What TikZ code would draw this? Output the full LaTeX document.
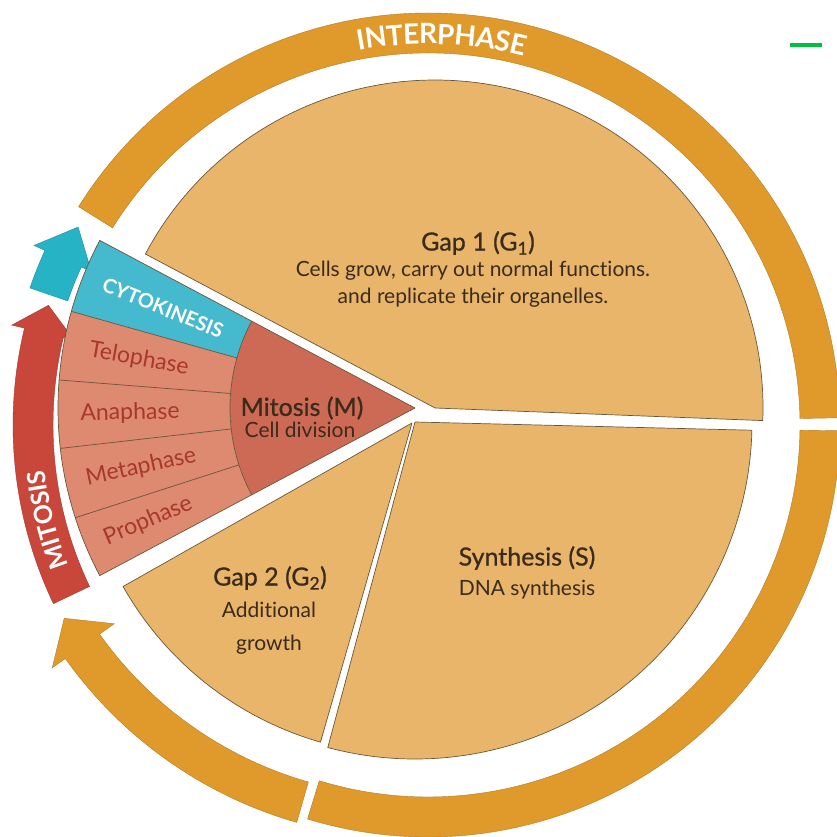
\documentclass[tikz,border=0pt]{standalone}
\usepackage{fontspec}
\setmainfont{Lato}[Ligatures=NoCommon]
\newfontfamily\titlefont{Lato}[FakeBold=0.8, Ligatures=NoCommon]
\usetikzlibrary{decorations.text}
\definecolor{sect}{HTML}{E9B56B}
\definecolor{sectline}{HTML}{6A5638}
\definecolor{ring}{HTML}{E09A2B}
\definecolor{mitred}{HTML}{C9473A}
\definecolor{cyanarrow}{HTML}{27B3C6}
\definecolor{cyanband}{HTML}{45B9CE}
\definecolor{band}{HTML}{DD8A70}
\definecolor{mitcore}{HTML}{CD6A55}
\definecolor{phasetext}{HTML}{A8382C}
\definecolor{bodytext}{HTML}{3A2B1A}
\definecolor{markgreen}{HTML}{00C040}
\begin{document}
\begin{tikzpicture}[x=1pt,y=1pt,
  sector/.style={fill=sect, draw=sectline, line width=0.7pt, line join=round},
  ringpiece/.style={fill=ring, draw=ring!80!black, line width=0.4pt},
  body/.style={text=bodytext, font=\fontsize{21}{27}\selectfont, align=center, inner sep=0pt},
  title/.style={text=bodytext, font=\titlefont\fontsize{25}{28}\selectfont, inner sep=0pt},
  phase/.style={text=phasetext, font=\fontsize{23}{26}\selectfont, inner sep=0pt},
  divline/.style={draw=sectline, line width=0.7pt},
]
\useasboundingbox (0,0) rectangle (837,836);

% ---- outer ring pieces, centre O
\begin{scope}[shift={(428,411)}]
 \filldraw[ringpiece] (148:372) arc[start angle=148, end angle=1, radius=372] -- (1:412) arc[start angle=1, end angle=148, radius=412] -- cycle;
 \filldraw[ringpiece] (-0.8:372) arc[start angle=-0.8, end angle=-107, radius=372] -- (-107:412) arc[start angle=-107, end angle=-0.8, radius=412] -- cycle;
 % red MITOSIS arrow
 \filldraw[fill=mitred, draw=mitred!80!black, line width=0.4pt] (205.5:375) arc[start angle=205.5, end angle=166.5, radius=375] -- (166.5:364) -- (162.5:398) -- (166.5:428) -- (166.5:415) arc[start angle=166.5, end angle=205.5, radius=415] -- cycle;
 % cyan arrow
 \filldraw[fill=cyanarrow, draw=cyanarrow!80!black, line width=0.4pt] (161:381) arc[start angle=161, end angle=155.5, radius=381] -- (155.5:370) -- (150.5:402) -- (155.5:433) -- (155.5:421) arc[start angle=155.5, end angle=161, radius=421] -- cycle;
 \path[decorate, decoration={text along path, text align=center, raise=-10pt,
   text={|\fontsize{28}{28}\selectfont\bfseries\color{white}|INTERPHASE}}]
   (112:391) arc[start angle=112, end angle=64, radius=391];
 \path[decorate, decoration={text along path, text align=center, raise=-9pt,
   text={|\fontsize{25}{25}\selectfont\bfseries\color{white}|MITOSIS}}]
   (206:395) arc[start angle=206, end angle=182, radius=395];
\end{scope}
% bottom-left orange arrow
\begin{scope}[shift={(415,426)}]
 \filldraw[ringpiece] (254:387) arc[start angle=254, end angle=215.4, radius=387] -- (215.4:369) -- (210.7:408) -- (215.4:445) -- (215.4:429) arc[start angle=215.4, end angle=254, radius=429] -- cycle;
\end{scope}

% ---- pie sectors
\filldraw[sector] (435,428) -- ++(-2.2:328) arc[start angle=-2.2, end angle=152, radius=328] -- cycle;
\filldraw[sector] (415,414) -- ++(255:337) arc[start angle=255, end angle=358.6, radius=337] -- cycle;
\filldraw[sector] (412,413) -- ++(209.5:332) arc[start angle=209.5, end angle=254, radius=332] -- cycle;

% ---- mitosis sector
\begin{scope}[shift={(415,428)}]
 \fill[mitcore] (0,0) -- (152:185) arc[start angle=152, end angle=208, radius=185] -- cycle;
 \fill[cyanband] (152:185) -- (152:357) arc[start angle=152, end angle=164.3, radius=357] -- (164.3:185) arc[start angle=164.3, end angle=152, radius=185] -- cycle;
 \fill[band] (164.3:185) -- (164.3:357) arc[start angle=164.3, end angle=208, radius=357] -- (208:185) arc[start angle=208, end angle=164.3, radius=185] -- cycle;
 \draw[divline] (152:185) arc[start angle=152, end angle=208, radius=185];
 \foreach \a in {164.3,175.5,186.5,197.9} \draw[divline] (\a:185) -- (\a:357);
 \draw[divline, line join=round] (0,0) -- (152:357) arc[start angle=152, end angle=208, radius=357] -- cycle;
\end{scope}

% ---- texts
\node[title] (g1t) at (478,593) {Gap 1 (G\textsubscript{1})};
\node[body] (g1b) at (473,552) {Cells grow, carry out normal functions.\\and replicate their organelles.};
\node[title] (st) at (527,278) {Synthesis (S)};
\node[body] (sb) at (527,246) {DNA synthesis};
\node[title] (g2t) at (270,258) {Gap 2 (G\textsubscript{2})};
\node[body, font=\fontsize{21}{33}\selectfont] (g2b) at (269,208) {Additional\\growth};
\node[title] (mt) at (302,428) {Mitosis (M)};
\node[body] (mb) at (300,406) {Cell division};
\node[phase, rotate=-10.1] (telo) at (139,477) {Telophase};
\node[phase, rotate=1] (ana) at (130,423) {Anaphase};
\node[phase, rotate=12.2] (meta) at (141,369) {Metaphase};
\node[phase, rotate=23] (pro) at (148,315) {Prophase};
\node[rotate=-21.85, text=white, font=\fontsize{20}{20}\selectfont\bfseries, inner sep=0pt] (cyto) at (163,528) {CYTOKINESIS};

% green mark
\draw[markgreen, line width=4pt] (790,791) -- (822,791);
\end{tikzpicture}
\end{document}
